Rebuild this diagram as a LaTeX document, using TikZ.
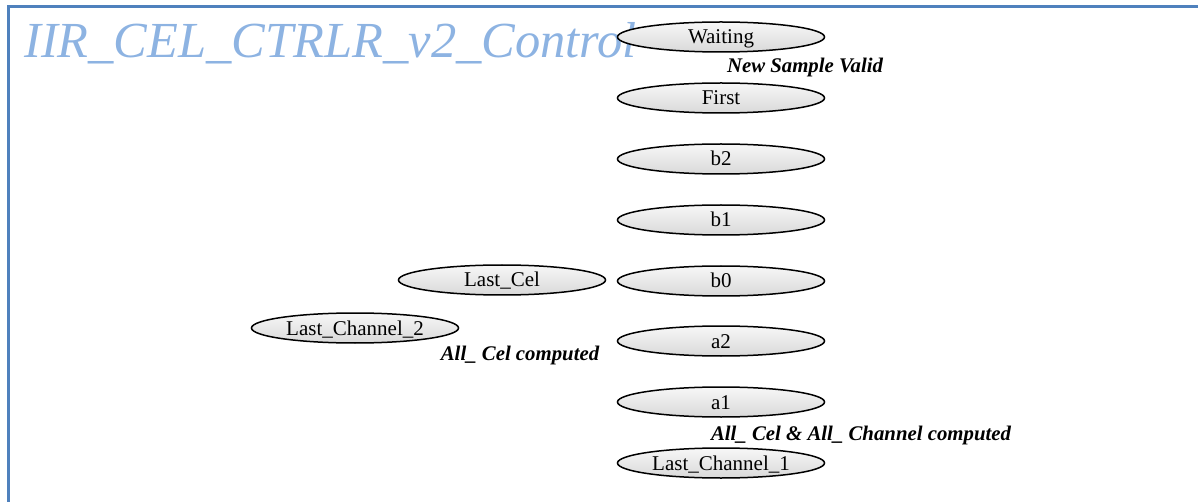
\documentclass[tikz,border=0pt]{standalone}
\usepackage{fontspec}
\setmainfont{Liberation Serif}
\definecolor{frameblue}{HTML}{4F81BD}
\definecolor{titleblue}{HTML}{8DB3E2}
\usetikzlibrary{shapes.geometric}
\tikzset{
  state/.style={ellipse, draw=black, line width=1.5pt, top color=gray!6, bottom color=gray!30,
    minimum width=207pt, minimum height=30pt, inner sep=0pt, text height=14pt, text depth=0pt,
    font=\fontsize{21}{21}\selectfont},
  guard/.style={font=\fontsize{20.8}{20.8}\selectfont\bfseries\itshape, inner sep=0pt},
}
\begin{document}
\begin{tikzpicture}[x=1pt,y=-1pt]
\useasboundingbox (0,0) rectangle (1198,502);
% frame
\draw[frameblue, line width=3pt] (8.5,502) -- (8.5,6.5) -- (1198,6.5);
% title
\node[anchor=base west, inner sep=0pt, text=titleblue, font=\fontsize{50.5}{50.5}\selectfont\itshape] (title) at (24,58) {IIR\_CEL\_CTRLR\_v2\_Control};
% states
\node[state] (waiting) at (721,37) {Waiting};
\node[state] (first) at (721,98) {First};
\node[state] (b2) at (721,159) {b2};
\node[state] (b1) at (721,220) {b1};
\node[state] (b0) at (721,281) {b0};
\node[state] (a2) at (721,341) {a2};
\node[state] (a1) at (721,402) {a1};
\node[state] (lastch1) at (721,463) {Last\_Channel\_1};
\node[state] (lastcel) at (502,280) {Last\_Cel};
\node[state] (lastch2) at (355,328) {Last\_Channel\_2};
% transition guards
\node[guard] (g1) at (805,68) {New Sample Valid};
\node[guard] (g2) at (520,355) {All\_ Cel computed};
\node[guard] (g3) at (861,435) {All\_ Cel \& All\_ Channel computed};
\end{tikzpicture}
\end{document}
